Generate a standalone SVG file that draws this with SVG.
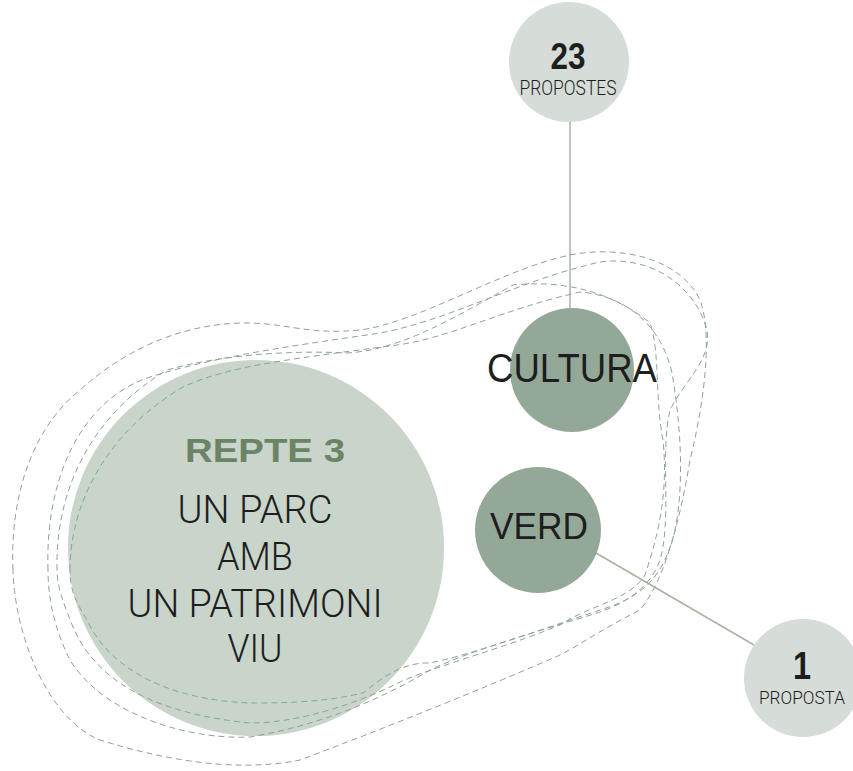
<svg xmlns="http://www.w3.org/2000/svg" width="853" height="771" viewBox="0 0 853 771">
<style>
.blob{fill:none;stroke:#8ea298;stroke-width:1;stroke-dasharray:6 4}
.conn{stroke:#a9b3a1;stroke-width:1.5;fill:none}
.txt{font-family:"Liberation Sans Narrow","Liberation Sans",Arial,sans-serif;fill:#1e1e1e;text-anchor:middle}
.light{font-family:Roboto,"Liberation Sans",Arial,sans-serif;font-weight:300}
.big{fill:#c9d4cb}
.mid{fill:#94a898}
.small{fill:#d6dcd8}
</style>
<rect width="853" height="771" fill="#ffffff"/>
<g id="connectors">
<line class="conn" x1="570" y1="120" x2="570" y2="310"/>
<line class="conn" x1="596" y1="553" x2="754" y2="645"/>
</g>
<g id="repte3">
<circle class="big" cx="256" cy="548" r="188"/>
</g>
<g id="contours">
<path class="blob" d="M 13,570 C 10,500 30,430 80,390 C 130,345 190,322 250,323 C 290,324 310,335 360,330 C 420,322 500,270 570,255 C 620,245 680,258 700,300 C 715,340 700,420 690,460 C 680,520 665,580 640,610 C 600,630 580,645 560,655 C 480,690 380,730 300,760 C 240,772 170,762 100,740 C 50,720 15,640 13,570 Z"/>
<path class="blob" d="M 48,570 C 45,480 80,400 150,377 C 220,355 300,345 380,333 C 450,320 520,280 600,262 C 650,255 695,285 707,330 C 712,360 685,380 670,410 C 660,450 672,520 660,560 C 650,590 620,605 600,612 C 560,625 470,650 430,670 C 380,700 320,725 250,737 C 180,740 100,710 70,660 C 55,630 48,600 48,570 Z"/>
<path class="blob" d="M 57,570 C 55,480 100,410 167,370 C 220,355 290,350 347,353 C 400,350 450,320 513,285 C 560,280 610,290 650,323 C 660,350 655,400 663,440 C 668,490 660,530 645,575 C 630,600 590,605 560,625 C 500,650 420,670 390,687 C 340,710 290,723 250,723 C 170,715 100,690 73,627 C 62,600 57,585 57,570 Z"/>
<path class="blob" d="M 70,570 C 70,500 110,430 183,387 C 230,365 300,358 397,345 C 450,338 500,310 580,292 C 620,295 660,320 672,373 C 680,420 685,480 675,530 C 665,570 650,595 600,610 C 540,630 470,655 430,663 C 400,662 380,680 363,693 C 320,703 280,703 250,703 C 170,700 110,670 87,620 C 75,600 70,590 70,570 Z"/>
</g>
<g id="repte3-text">
<text class="txt" x="265" y="462" font-size="34" font-weight="bold" style="fill:#6b8466" textLength="160" lengthAdjust="spacingAndGlyphs">REPTE 3</text>
<text class="txt light" x="255" y="523" font-size="38" textLength="155" lengthAdjust="spacingAndGlyphs">UN PARC</text>
<text class="txt light" x="255" y="570" font-size="38" textLength="76" lengthAdjust="spacingAndGlyphs">AMB</text>
<text class="txt light" x="255" y="617" font-size="38" textLength="255" lengthAdjust="spacingAndGlyphs">UN PATRIMONI</text>
<text class="txt light" x="255" y="662" font-size="38" textLength="55" lengthAdjust="spacingAndGlyphs">VIU</text>
</g>
<g id="cultura">
<circle class="mid" cx="572" cy="370" r="62"/>
<text class="txt" x="572" y="382" font-size="40" textLength="170" lengthAdjust="spacingAndGlyphs">CULTURA</text>
</g>
<g id="verd">
<circle class="mid" cx="538" cy="530" r="63"/>
<text class="txt" x="539" y="539" font-size="37" textLength="98" lengthAdjust="spacingAndGlyphs">VERD</text>
</g>
<g id="propostes23">
<circle class="small" cx="569" cy="62" r="60"/>
<text class="txt" x="568" y="69" font-size="36" font-weight="bold" textLength="35" lengthAdjust="spacingAndGlyphs">23</text>
<text class="txt light" x="568" y="95" font-size="20" textLength="97" lengthAdjust="spacingAndGlyphs">PROPOSTES</text>
</g>
<g id="proposta1">
<circle class="small" cx="803" cy="678" r="59"/>
<text class="txt" x="802" y="679" font-size="38" font-weight="bold" textLength="18" lengthAdjust="spacingAndGlyphs">1</text>
<text class="txt light" x="802" y="704" font-size="18" textLength="86" lengthAdjust="spacingAndGlyphs">PROPOSTA</text>
</g>
</svg>
